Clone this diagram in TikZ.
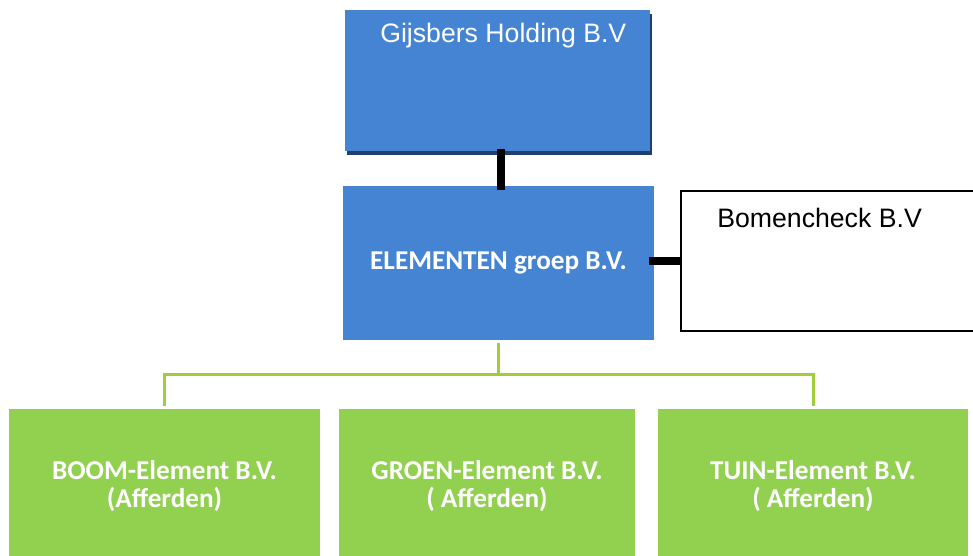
\documentclass[tikz,border=0pt]{standalone}
\usepackage{fontspec}
\newfontfamily\arialfont{Liberation Sans}
\newfontfamily\calibrifont{Carlito}
\usetikzlibrary{shadows}
\definecolor{elemblue}{HTML}{4584D3}
\definecolor{shadowblue}{HTML}{1F3F6E}
\definecolor{elemgreen}{HTML}{92D050}
\definecolor{linegreen}{HTML}{A2CD3A}
\tikzstyle{bluebox}   = [rectangle, fill=elemblue, inner sep=0pt, text=white,
                         font=\calibrifont\bfseries\fontsize{20.4}{21}\selectfont]
\tikzstyle{greenbox}  = [rectangle, fill=elemgreen, inner sep=0pt, text=white, align=center,
                         minimum height=115.5pt, font=\calibrifont\bfseries\fontsize{20.4}{21}\selectfont]
\tikzstyle{whitebox}  = [rectangle, draw=black, line width=1.5pt, fill=white, inner sep=0pt]
\tikzstyle{arialtext} = [inner sep=0pt, anchor=base west, font=\arialfont\fontsize{20}{21}\selectfont]
\tikzstyle{blackbar}  = [line width=5.6pt, black]
\tikzstyle{greenline} = [line width=2.25pt, linegreen]

\begin{document}
\begin{tikzpicture}[x=0.75pt,y=-0.75pt]
        \clip (0,0) rectangle (973,556);

        % holding en groep
        \node[bluebox, minimum width=228.75pt, minimum height=105.75pt,
              drop shadow={shadow xshift=1.5pt, shadow yshift=-3pt, fill=shadowblue, opacity=1}]
              (holding) at (497.5,80.5) {};
        \node[arialtext, text=white] (holdingtext) at (380,43) {Gijsbers Holding B.V};
        \node[bluebox, minimum width=233.25pt, minimum height=115.5pt] (elementen) at (498.5,263) {ELEMENTEN groep B.V.};

        \node[whitebox, minimum width=231.75pt, minimum height=105pt] (bomencheck) at (835.5,261) {};
        \node[arialtext] (bomenchecktext) at (717,227) {Bomencheck B.V};

        % dochters
        \node[greenbox, minimum width=233.25pt] (boom) at (164.5,486) {BOOM-Element B.V.\\(Afferden)};
        \node[greenbox, minimum width=222pt] (groen) at (487,486) {GROEN-Element B.V.\\( Afferden)};
        \node[greenbox, minimum width=232.5pt] (tuin) at (813,486) {TUIN-Element B.V.\\( Afferden)};

        \draw[blackbar] ([xshift=2.6pt,yshift=1.5pt]holding.south) -- ([xshift=2.6pt,yshift=-3.5pt]holding.south |- elementen.north);
        \draw[blackbar] (elementen.east |- bomencheck.west) ++(-4pt,0) -- (bomencheck.west);

        \coordinate (bar) at (498,374);
        \draw[greenline] ([yshift=-2.25pt]elementen.south) -- (elementen.south |- bar);
        \draw[greenline] ([yshift=2.25pt]boom.north) |- (bar) -| ([yshift=2.25pt]tuin.north);
\end{tikzpicture}
\end{document}
